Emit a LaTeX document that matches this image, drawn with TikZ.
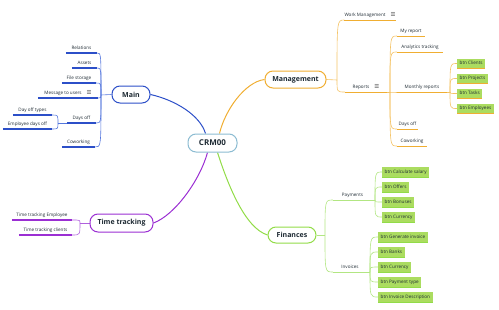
\documentclass[tikz,border=0pt]{standalone}
\usepackage{fontspec}
\setmainfont{Open Sans}
\newfontfamily\iconfont{DejaVu Sans}
\usetikzlibrary{calc,backgrounds}
\definecolor{cblue}{HTML}{2C4FC8}
\definecolor{cblueL}{HTML}{5577DD}
\definecolor{corange}{HTML}{F0AE32}
\definecolor{corangeL}{HTML}{F4C366}
\definecolor{cpurple}{HTML}{9B2FD3}
\definecolor{cpurpleL}{HTML}{B060DD}
\definecolor{cgreen}{HTML}{92DC48}
\definecolor{cgreenL}{HTML}{B2E682}
\definecolor{cbox}{HTML}{ABDC60}
\definecolor{croot}{HTML}{8CBCD2}
\definecolor{ctext}{HTML}{1E2A33}
\definecolor{cicon}{HTML}{444444}
\newcommand{\menuicon}{{\iconfont\fontsize{5.5}{6}\selectfont\color{cicon}☰}}
\tikzset{
  topic/.style={draw, line width=1pt, rounded corners=8pt, fill=white,
    font=\fontsize{7}{8}\selectfont\bfseries, text=ctext, inner sep=0pt, minimum height=17pt},
  leaf/.style={inner xsep=0pt, inner ysep=2.5pt, font=\fontsize{4.6}{5}\selectfont,
    text=ctext, anchor=south, text height=3.4pt, text depth=1pt},
  btn/.style={fill=cbox, anchor=west, inner xsep=2.5pt,
    minimum height=10pt, inner ysep=0pt, font=\fontsize{4.6}{5}\selectfont, text=ctext,
    text height=3.4pt, text depth=1pt},
  fanB/.style={draw=cblueL, line width=0.6pt},
  fanO/.style={draw=corangeL, line width=0.6pt},
  fanG/.style={draw=cgreenL, line width=0.6pt},
  fanP/.style={draw=cpurpleL, line width=0.6pt},
  ulB/.style={draw=cblue, line width=1.2pt},
  ulO/.style={draw=corange, line width=0.8pt},
  ulG/.style={draw=cgreenL, line width=0.8pt},
  ulGB/.style={draw=cgreen, line width=0.8pt},
  ulP/.style={draw=cpurple, line width=1.1pt},
}
\begin{document}
\begin{tikzpicture}[x=1pt,y=-1pt]
\useasboundingbox (0,0) rectangle (499,309);

% topics
\node[topic, draw=croot, minimum width=49pt, minimum height=18pt, font=\fontsize{8}{9}\selectfont\bfseries] (root) at (212.5,143) {CRM00};
\node[topic, draw=cblue, minimum width=38pt] (main) at (131,94.5) {Main};
\node[topic, draw=corange, minimum width=61pt] (mgmt) at (295.5,79.5) {Management};
\node[topic, draw=cpurple, minimum width=63pt, minimum height=18pt] (tt) at (121.5,223) {Time tracking};
\node[topic, draw=cgreen, minimum width=48pt, minimum height=16pt] (fin) at (292,235) {Finances};

% Main leaves
\node[leaf, minimum width=31pt] (rel) at (81.5,53) {Relations};
\node[leaf, minimum width=25pt] (assets) at (84.5,68) {Assets};
\node[leaf, minimum width=34pt] (files) at (79,83) {File storage};
\node[leaf, minimum width=60pt] (msg) at (68,98) {Message to users\hspace{5pt}\menuicon};
\node[leaf, minimum width=29pt] (days) at (81.5,123) {Days off};
\node[leaf, minimum width=39pt] (dtypes) at (32.5,115) {Day off types};
\node[leaf, minimum width=49pt] (edays) at (27.5,129) {Employee days off};
\node[leaf, minimum width=33pt] (cowork) at (78.5,147) {Coworking};

% Management leaves
\node[leaf, minimum width=50pt] (wm) at (370,20) {Work Management\hspace{5pt}\menuicon};
\node[leaf, minimum width=42pt] (reports) at (366,92) {Reports\hspace{5pt}\menuicon};
\node[leaf, minimum width=28pt] (myrep) at (411,36) {My report};
\node[leaf, minimum width=46pt] (analytics) at (420,52) {Analytics tracking};
\node[leaf, minimum width=50pt] (monthly) at (422,92) {Monthly reports};
\node[leaf, minimum width=21pt] (rdays) at (407.5,129) {Days off};
\node[leaf, minimum width=30pt] (rcow) at (412,146) {Coworking};
\node[btn] (bclients) at (457,63.5) {btn Clients};
\node[btn] (bprojects) at (457,78.5) {btn Projects};
\node[btn] (btasks) at (457,93.5) {btn Tasks};
\node[btn] (bemployees) at (457,108.5) {btn Employees};

% Finances leaves
\node[leaf, minimum width=39pt] (payments) at (352.5,200) {Payments};
\node[leaf, minimum width=34pt] (invoices) at (350,272) {Invoices};
\node[btn] (bsalary) at (382,172) {btn Calculate salary};
\node[btn] (boffers) at (382,187) {btn Offers};
\node[btn] (bbonuses) at (382,202) {btn Bonuses};
\node[btn] (bcurrA) at (382,217) {btn Currency};
\node[btn] (bgen) at (378,237) {btn Generate invoice};
\node[btn] (bbanks) at (378,252) {btn Banks};
\node[btn] (bcurrB) at (378,267) {btn Currency};
\node[btn] (bptype) at (378,282) {btn Payment type};
\node[btn] (bdesc) at (378,297) {btn Invoice Description};

% Time tracking leaves
\node[leaf, minimum width=60pt] (ttE) at (42,220) {Time tracking Employee};
\node[leaf, minimum width=53pt] (ttC) at (45.5,235) {Time tracking clients};

% branch points
\coordinate (mB) at (101,95);
\coordinate (dB) at (58,123);
\coordinate (gB) at (337,80);
\coordinate (rB) at (390,92);
\coordinate (moB) at (450,92);
\coordinate (fB) at (325,235);
\coordinate (pB) at (375,200);
\coordinate (iB) at (370,272);
\coordinate (tB) at (80,223);

% box bottom edges
\foreach \n in {bclients,bprojects,btasks,bemployees}
  \draw[ulO] (\n.south west) -- (\n.south east);
\foreach \n in {bsalary,boffers,bbonuses,bcurrA,bgen,bbanks,bcurrB,bptype,bdesc}
  \draw[ulGB] (\n.south west) -- (\n.south east);

\begin{scope}[on background layer]
% root connectors
\draw[cblue, line width=1pt] ([xshift=-7pt]root.north) .. controls (200,115) and (175,100) .. (main.east);
\draw[corange, line width=1pt] ([xshift=7pt]root.north) .. controls (225,110) and (245,82) .. (mgmt.west);
\draw[cpurple, line width=1pt] ([xshift=-5pt]root.south) .. controls (200,180) and (175,215) .. (tt.east);
\draw[cgreen, line width=1pt] ([xshift=5pt]root.south) .. controls (228,185) and (245,228) .. (fin.west);

% Main fan
\draw[fanB] (main.west) -- (mB);
\foreach \n in {rel,assets,files,msg,days,cowork}
  \draw[fanB] (mB) .. controls (mB |- \n.south east) .. (\n.south east);
\draw[fanB] (days.south west) -- (dB);
\foreach \n in {dtypes,edays}
  \draw[fanB] (dB) .. controls (dB |- \n.south east) .. (\n.south east);
\foreach \n in {rel,assets,files,msg,days,cowork,dtypes,edays}
  \draw[ulB] (\n.south west) -- (\n.south east);

% Management fan
\draw[fanO] (mgmt.east) -- (gB);
\foreach \n in {wm,reports}
  \draw[fanO] (gB) .. controls (gB |- \n.south west) .. (\n.south west);
\draw[fanO] (reports.south east) -- (rB);
\foreach \n in {myrep,analytics,monthly,rdays,rcow}
  \draw[fanO] (rB) .. controls (rB |- \n.south west) .. (\n.south west);
\draw[fanO] (monthly.south east) -- (moB);
\foreach \n in {bclients,bprojects,btasks,bemployees}
  \draw[fanO] (moB) .. controls (moB |- \n.west) .. (\n.west);
\foreach \n in {wm,reports,myrep,analytics,monthly,rdays,rcow}
  \draw[ulO] (\n.south west) -- (\n.south east);

% Finances fan
\draw[fanG] (fin.east) -- (fB);
\foreach \n in {payments,invoices}
  \draw[fanG] (fB) .. controls (fB |- \n.south west) .. (\n.south west);
\draw[fanG] (payments.south east) -- (pB);
\foreach \n in {bsalary,boffers,bbonuses,bcurrA}
  \draw[fanG] (pB) .. controls (pB |- \n.west) .. (\n.west);
\draw[fanG] (invoices.south east) -- (iB);
\foreach \n in {bgen,bbanks,bcurrB,bptype,bdesc}
  \draw[fanG] (iB) .. controls (iB |- \n.west) .. (\n.west);
\foreach \n in {payments,invoices}
  \draw[ulG] (\n.south west) -- (\n.south east);

% Time tracking fan
\draw[fanP] (tt.west) -- (tB);
\foreach \n in {ttE,ttC}
  \draw[fanP] (tB) .. controls (tB |- \n.south east) .. (\n.south east);
\foreach \n in {ttE,ttC}
  \draw[ulP] (\n.south west) -- (\n.south east);
\end{scope}
\end{tikzpicture}
\end{document}
